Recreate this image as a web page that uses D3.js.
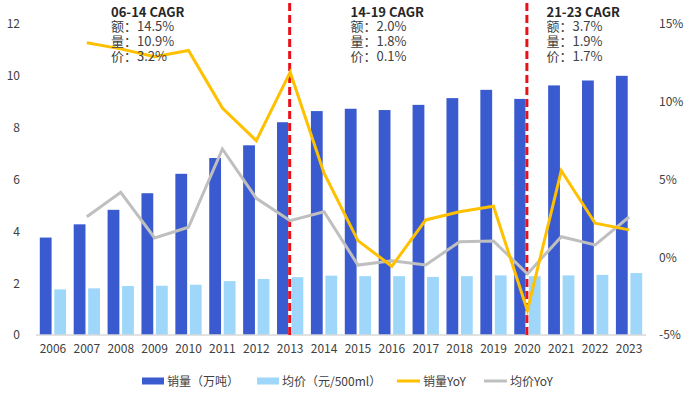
<!DOCTYPE html>
<html><head><meta charset="utf-8">
<script src="https://cdn.jsdelivr.net/npm/d3@7"></script>
<style>body{margin:0;background:#fff;}svg{display:block;font-family:"Noto Sans CJK SC","Noto Sans",sans-serif;}</style>
</head><body>
<svg id="chart" width="691" height="399"></svg>
<script>
const years = ["2006","2007","2008","2009","2010","2011","2012","2013","2014","2015","2016","2017","2018","2019","2020","2021","2022","2023"];
const volume = [3.76,4.27,4.83,5.47,6.22,6.83,7.32,8.21,8.64,8.73,8.68,8.88,9.14,9.46,9.11,9.63,9.82,10.0];
const price = [1.76,1.80,1.89,1.90,1.94,2.08,2.16,2.23,2.29,2.27,2.27,2.24,2.27,2.30,2.27,2.30,2.32,2.39];
const volumeYoY = [null,13.8,13.4,12.9,13.3,9.6,7.5,11.9,5.4,1.07,-0.58,2.4,2.93,3.28,-3.43,5.57,2.19,1.76];
const priceYoY = [null,2.6,4.18,1.24,1.93,6.96,3.79,2.35,2.93,-0.5,-0.22,-0.5,1.0,1.05,-1.07,1.32,0.79,2.59];
const leftTicks = [0,2,4,6,8,10,12];
const rightTicks = [-5,0,5,10,15];
const dividerYears = ["2013","2020"];
const annotations = [
  {x:"2009", title:"06-14 CAGR", lines:["额：14.5%","量：10.9%","价：3.2%"]},
  {x:"2015", title:"14-19 CAGR", lines:["额：2.0%","量：1.8%","价：0.1%"]},
  {x:"2021", title:"21-23 CAGR", lines:["额：3.7%","量：1.9%","价：1.7%"]}
];
const legendItems = [
  {label:"销量（万吨）", type:"rect", color:"#3A5BCF"},
  {label:"均价（元/500ml）", type:"rect", color:"#9ED7FA"},
  {label:"销量YoY", type:"line", color:"#FFC000"},
  {label:"均价YoY", type:"line", color:"#BFBFBF"}
];

const svg = d3.select("#chart");
const L = 36, R = 646, T = 24, B = 335;
const x = d3.scaleBand().domain(years).range([L, R]).padding(0);
const inner = d3.scaleBand().domain(["v","p"]).range([0, x.bandwidth()]).paddingInner(0.186).paddingOuter(0.262);
const yL = d3.scaleLinear().domain([0,12]).range([B, T]);
const yR = d3.scaleLinear().domain([-5,15]).range([B, T]);

// bars
const g = svg.append("g");
g.selectAll(".bv").data(years).enter().append("rect")
  .attr("x", d => x(d) + inner("v")).attr("width", inner.bandwidth())
  .attr("y", (d,i) => yL(volume[i])).attr("height", (d,i) => yL(0) - yL(volume[i]))
  .attr("fill", "#3A5BCF");
g.selectAll(".bp").data(years).enter().append("rect")
  .attr("x", d => x(d) + inner("p")).attr("width", inner.bandwidth())
  .attr("y", (d,i) => yL(price[i])).attr("height", (d,i) => yL(0) - yL(price[i]))
  .attr("fill", "#9ED7FA");

// axis line
svg.append("line").attr("x1", L).attr("x2", R).attr("y1", B).attr("y2", B)
  .attr("stroke", "#D9D9D9").attr("stroke-width", 1.5);

// dividers
dividerYears.forEach(yr => {
  const cx = x(yr) + x.bandwidth()/2 - 0.5;
  svg.append("line").attr("x1", cx).attr("x2", cx).attr("y1", 3).attr("y2", B)
    .attr("stroke", "#fff").attr("stroke-width", 3);
  svg.append("line").attr("x1", cx).attr("x2", cx).attr("y1", 3).attr("y2", B)
    .attr("stroke", "#E8101A").attr("stroke-width", 3).attr("stroke-dasharray", "8,4");
});

// lines
const lineGen = scale => d3.line()
  .defined(d => d.v !== null)
  .x(d => x(d.y) + x.bandwidth()/2)
  .y(d => scale(d.v));
svg.append("path").datum(years.map((y,i) => ({y, v: priceYoY[i]})))
  .attr("d", lineGen(yR)).attr("fill", "none").attr("stroke", "#BFBFBF").attr("stroke-width", 3);
svg.append("path").datum(years.map((y,i) => ({y, v: volumeYoY[i]})))
  .attr("d", lineGen(yR)).attr("fill", "none").attr("stroke", "#FFC000").attr("stroke-width", 3);

// axes
const axL = svg.append("g").attr("transform", `translate(20,0)`)
  .call(d3.axisLeft(yL).tickValues(leftTicks).tickSize(0).tickPadding(0));
const axR = svg.append("g").attr("transform", `translate(659,0)`)
  .call(d3.axisRight(yR).tickValues(rightTicks).tickSize(0).tickPadding(0).tickFormat(d => d + "%"));
const axX = svg.append("g").attr("transform", `translate(0,${B})`)
  .call(d3.axisBottom(x).tickSize(0).tickPadding(9));
[axL, axR, axX].forEach(a => {
  a.select(".domain").remove();
  a.selectAll("text").attr("fill", "#404040").style("font-size", "12px")
    .style("font-family", '"Noto Sans CJK SC","Noto Sans",sans-serif');
});

// annotations (one text block each, lines as tspans)
const annX = {"2009":111, "2015":350.5, "2021":546.5};
annotations.forEach(a => {
  const tx = annX[a.x];
  const t = svg.append("text").attr("x", tx).attr("y", 16.5).style("font-size", "13px");
  t.append("tspan").attr("x", tx).attr("y", 16.5).text(a.title)
    .attr("fill", "#262626").style("font-weight", "bold");
  a.lines.forEach((s, i) => {
    t.append("tspan").attr("x", tx).attr("y", 31 + i*15).text(s).attr("fill", "#404040");
  });
});

// legend
const legX = [142, 257, 397, 484];
legendItems.forEach((it, i) => {
  const lx = legX[i], ly = 381;
  if (it.type === "rect") {
    svg.append("rect").attr("x", lx).attr("y", ly - 3.5).attr("width", 22).attr("height", 7).attr("fill", it.color);
  } else {
    svg.append("line").attr("x1", lx).attr("x2", lx + 23).attr("y1", ly).attr("y2", ly)
      .attr("stroke", it.color).attr("stroke-width", 3);
  }
  svg.append("text").attr("x", lx + (it.type === "rect" ? 25 : 26)).attr("y", ly + 4.5).text(it.label)
    .attr("fill", "#404040").style("font-size", "12px");
});
</script>
</body></html>
